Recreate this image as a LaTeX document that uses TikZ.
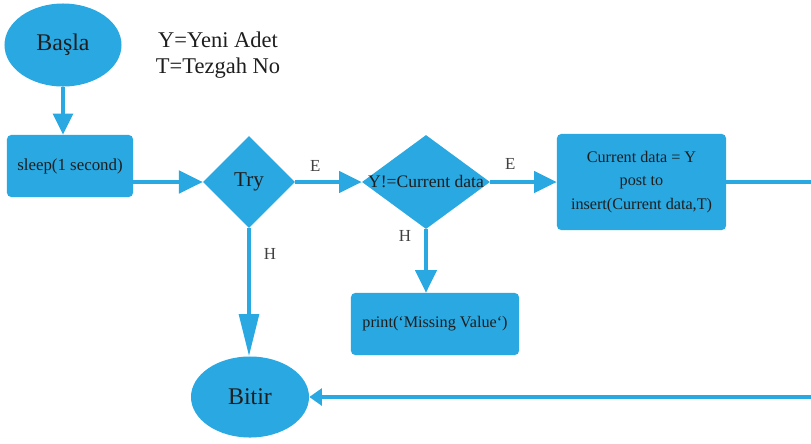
\documentclass[tikz,border=0pt]{standalone}
\usepackage{fontspec}
\setmainfont{Liberation Serif}
\usetikzlibrary{shapes.geometric,arrows.meta}
\definecolor{akis}{RGB}{41,168,226}
\definecolor{yazi}{RGB}{30,30,30}

\begin{document}
\begin{tikzpicture}[x=0.025cm,y=-0.025cm,
    kutu/.style={rectangle,rounded corners=3pt,fill=akis,inner sep=0pt,text=yazi},
    karar/.style={diamond,fill=akis,inner sep=0pt,text=yazi},
    uc/.style={ellipse,fill=akis,inner sep=0pt,text=yazi,font=\fontsize{17}{20}\selectfont},
    ok/.style={draw=akis,line width=2.6pt,-{Triangle[length=16pt,width=15pt]}},
    etiket/.style={text=yazi!85,font=\fontsize{12}{14}\selectfont}]
    \useasboundingbox (0,0) rectangle (811,443);
    % start / end
    \node[uc,minimum width=2.925cm,minimum height=2.075cm] (bas) at (63,45) {Başla};
    \node[uc,minimum width=2.95cm,minimum height=2.025cm] (bit) at (250,397) {Bitir};
    \node[text=yazi,align=center,font=\fontsize{16}{18.5}\selectfont] (aciklama) at (218,55)
      {Y=Yeni Adet\\T=Tezgah No};
    % steps
    \node[kutu,minimum width=3.15cm,minimum height=1.55cm,font=\fontsize{12}{14}\selectfont]
      (bekle) at (70,166) {sleep(1 second)};
    \node[karar,minimum width=2.3cm,minimum height=2.3cm,font=\fontsize{15}{17}\selectfont]
      (dene) at (249,182) {Try};
    \node[karar,minimum width=3.2cm,minimum height=2.35cm,
      label={[text=yazi,font=\fontsize{12.5}{14}\selectfont]center:Y!=Current data}]
      (kontrol) at (426,182) {};
    \node[kutu,minimum width=4.225cm,minimum height=2.4cm,align=center,
      font=\fontsize{11.5}{16.5}\selectfont] (ekle) at (641.5,182)
      {Current data = Y\\post to\\insert(Current data,T)};
    \node[kutu,minimum width=4.2cm,minimum height=1.55cm,font=\fontsize{11.5}{14}\selectfont]
      (yaz) at (435,324) {print(`Missing Value`)};
    % connectors
    \coordinate (donus) at (830,182);
    \draw[ok,-{Triangle[length=15pt,width=14pt]}] (bas.south) -- (bas.south |- bekle.north);
    \draw[ok,-{Triangle[length=17pt,width=16pt]}] (bekle.east |- dene.west) -- (dene.west);
    \draw[ok] (dene.east) -- (kontrol.west) node[etiket,pos=0.3,above=3pt] {E};
    \draw[ok] (kontrol.east) -- (ekle.west |- kontrol.east) node[etiket,pos=0.3,above=4pt] {E};
    \draw[ok,-{Triangle[length=30pt,width=14pt]}] (dene.south) -- (dene.south |- bit.north)
      node[etiket,pos=0.2,right=6pt] {H};
    \draw[ok] (kontrol.south) -- (kontrol.south |- yaz.north)
      node[etiket,pos=0.1,left=6pt] {H};
    \draw[ok,-{Triangle[length=9pt,width=12pt]}] (ekle.east) -- (donus) |- (bit.east);
\end{tikzpicture}
\end{document}
